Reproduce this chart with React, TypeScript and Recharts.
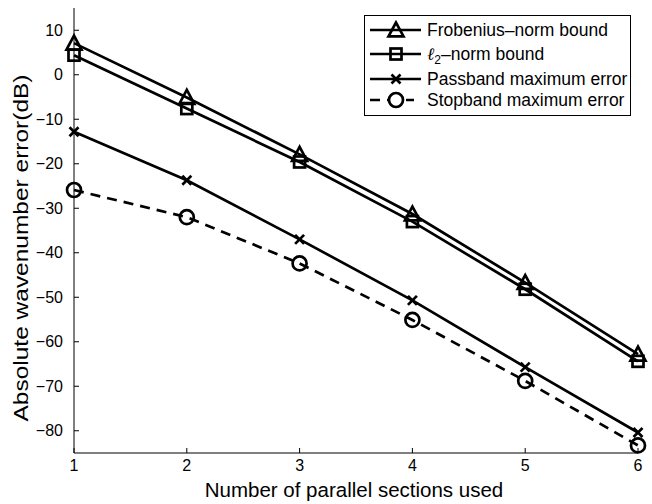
import React from "react";
import {
  LineChart,
  Line,
  XAxis,
  YAxis,
  Legend,
} from "recharts";

// values
const sections = [1, 2, 3, 4, 5, 6];
const frobeniusBound = [7.1, -5.1, -17.9, -31.3, -46.7, -62.8];
const l2Bound = [4.4, -7.6, -19.6, -33.0, -48.2, -64.4];
const passbandMax = [-12.8, -23.7, -37.0, -50.7, -65.7, -80.4];
const stopbandMax = [-25.9, -32.0, -42.4, -55.1, -68.8, -83.3];

const xTicks = [1, 2, 3, 4, 5, 6];
const yTicks = [-80, -70, -60, -50, -40, -30, -20, -10, 0, 10];

const data = sections.map((x, i) => ({
  x,
  frob: frobeniusBound[i],
  l2: l2Bound[i],
  pass: passbandMax[i],
  stop: stopbandMax[i],
}));

const FONT = "'Liberation Sans', Arial, Helvetica, sans-serif";
const SW = 2.7;

type Shape = "triangle" | "square" | "cross" | "circle";

function Marker({ shape, cx, cy }: { shape: Shape; cx: number; cy: number }) {
  const common = { stroke: "#000", strokeWidth: SW, fill: "none" };
  if (shape === "triangle") {
    const s = 7.5;
    return (
      <polygon
        {...common}
        strokeLinejoin="miter"
        points={`${cx},${cy - s} ${cx - s},${cy + s * 0.85} ${cx + s},${cy + s * 0.85}`}
      />
    );
  }
  if (shape === "square") {
    const s = 5.5;
    return <rect {...common} x={cx - s} y={cy - s} width={2 * s} height={2 * s} />;
  }
  if (shape === "cross") {
    const s = 4.5;
    return (
      <g {...common}>
        <line x1={cx - s} y1={cy - s} x2={cx + s} y2={cy + s} />
        <line x1={cx - s} y1={cy + s} x2={cx + s} y2={cy - s} />
      </g>
    );
  }
  return <circle {...common} cx={cx} cy={cy} r={7} />;
}

const dotFor = (shape: Shape) => (props: any) => (
  <Marker key={`${shape}-${props.index}`} shape={shape} cx={props.cx} cy={props.cy} />
);

const legendItems: { label: React.ReactNode; shape: Shape; dash?: string }[] = [
  { label: "Frobenius\u2013norm bound", shape: "triangle" },
  {
    label: (
      <>
        <tspan fontStyle="italic" fontFamily="'DejaVu Serif', serif">ℓ</tspan>
        <tspan baselineShift="-30%" fontSize={12}>2</tspan>
        <tspan>{"\u2013norm bound"}</tspan>
      </>
    ),
    shape: "square",
  },
  { label: "Passband maximum error", shape: "cross" },
  { label: "Stopband maximum error", shape: "circle", dash: "10 7" },
];

function LegendBox() {
  const rows = [15, 39, 64, 85];
  return (
    <svg width={268} height={102} style={{ display: "block" }}>
      <rect x={0.5} y={0.5} width={266} height={100} fill="#fff" stroke="#000" strokeWidth={1} />
      {legendItems.map((it, i) => (
        <g key={i}>
          <line
            x1={6}
            x2={57}
            y1={rows[i]}
            y2={rows[i]}
            stroke="#000"
            strokeWidth={SW}
            strokeDasharray={it.dash}
          />
          {it.dash ? <rect x={24} y={rows[i] - 8} width={18} height={16} fill="#fff" /> : null}
          <Marker shape={it.shape} cx={32} cy={rows[i]} />
          <text x={63} y={rows[i] + 6} fontSize={17.5} fontFamily={FONT} fill="#000">
            {it.label}
          </text>
        </g>
      ))}
    </svg>
  );
}

const fmt = (v: number) => String(v).replace("-", "\u2212");

export default function App() {
  return (
    <div style={{ position: "absolute", left: 0, top: 0, background: "#fff" }}>
      <LineChart
        width={652}
        height={504}
        data={data}
        margin={{ top: 8, right: 14, left: 14, bottom: 0 }}
      >
        <XAxis
          dataKey="x"
          type="number"
          domain={[1, 6]}
          ticks={xTicks}
          height={51}
          tickSize={-5}
          tickMargin={12}
          stroke="#000"
          tick={{ fill: "#000", fontSize: 16, fontFamily: FONT }}
          label={{
            content: () => (
              <text x={354} y={497} textAnchor="middle" fontSize={20.5} fontFamily={FONT} fill="#000">
                Number of parallel sections used
              </text>
            ),
          }}
        />
        <XAxis
          xAxisId="top"
          orientation="top"
          type="number"
          domain={[1, 6]}
          ticks={xTicks}
          allowDataOverflow
          height={0}
          tickSize={-5}
          tick={false}
          stroke="#000"
        />
        <YAxis
          type="number"
          domain={[-85, 15]}
          ticks={yTicks}
          width={60}
          tickSize={-5}
          tickMargin={16}
          stroke="#000"
          tickFormatter={fmt}
          tick={{ fill: "#000", fontSize: 16, fontFamily: FONT }}
          label={{
            content: () => (
              <text
                x={0}
                y={0}
                transform="translate(28,248) rotate(-90)"
                textAnchor="middle"
                fontSize={20.5}
                textLength={347}
                lengthAdjust="spacingAndGlyphs"
                fontFamily={FONT}
                fill="#000"
              >
                Absolute wavenumber error(dB)
              </text>
            ),
          }}
        />
        <YAxis
          yAxisId="right"
          orientation="right"
          type="number"
          domain={[-85, 15]}
          ticks={yTicks}
          allowDataOverflow
          width={0}
          tickSize={-5}
          tick={false}
          stroke="#000"
        />
        <Line
          dataKey="frob"
          stroke="#000"
          strokeWidth={SW}
          dot={dotFor("triangle")}
          isAnimationActive={false}
        />
        <Line
          dataKey="l2"
          stroke="#000"
          strokeWidth={SW}
          dot={dotFor("square")}
          isAnimationActive={false}
        />
        <Line
          dataKey="pass"
          stroke="#000"
          strokeWidth={SW}
          dot={dotFor("cross")}
          isAnimationActive={false}
        />
        <Line
          dataKey="stop"
          stroke="#000"
          strokeWidth={SW}
          strokeDasharray="10 7"
          dot={dotFor("circle")}
          isAnimationActive={false}
        />
        <Legend
          layout="vertical"
          align="center"
          verticalAlign="middle"
          content={() => <LegendBox />}
          wrapperStyle={{ position: "absolute", left: 364, top: 15, width: 268, height: 102 }}
        />
      </LineChart>
    </div>
  );
}
